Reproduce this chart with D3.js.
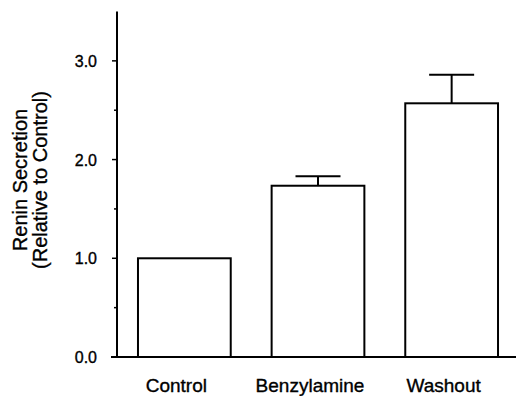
<!DOCTYPE html>
<html>
<head>
<meta charset="utf-8">
<script src="https://cdn.jsdelivr.net/npm/d3@7"></script>
<style>
  body { margin: 0; background: #fff; }
  svg { display: block; }
  text { font-family: "Liberation Sans", Arial, Helvetica, sans-serif; fill: #000; stroke: #000; stroke-width: 0.35px; }
</style>
</head>
<body>
<div id="chart"></div>
<script>
const categories = ["Control", "Benzylamine", "Washout"];
const means = [1.0, 1.735, 2.57];
const errors = [0, 0.095, 0.29];
const majorTicks = [0, 1, 2, 3];
const minorTicks = [0.5, 1.5, 2.5];

const width = 516, height = 396;

const svg = d3.select("#chart").append("svg")
  .attr("width", width)
  .attr("height", height);

const y = d3.scaleLinear().domain([0, 3.5]).range([357, 11.5]);
const x = d3.scaleBand()
  .domain(categories)
  .range([117, 519])
  .paddingInner(0.306)
  .paddingOuter(0.157);

// y axis
svg.append("line")
  .attr("x1", 117).attr("x2", 117)
  .attr("y1", y(3.5)).attr("y2", y(0) + 1)
  .attr("stroke", "#000").attr("stroke-width", 2);

svg.selectAll(".major")
  .data(majorTicks)
  .join("line")
  .attr("x1", 112).attr("x2", 117)
  .attr("y1", d => y(d)).attr("y2", d => y(d))
  .attr("stroke", "#000").attr("stroke-width", 1.5);

svg.selectAll(".minor")
  .data(minorTicks)
  .join("line")
  .attr("x1", 114).attr("x2", 117)
  .attr("y1", d => y(d)).attr("y2", d => y(d))
  .attr("stroke", "#000").attr("stroke-width", 1.5);

svg.selectAll(".ticklabel")
  .data(majorTicks)
  .join("text")
  .attr("x", 97)
  .attr("y", d => y(d) + 6)
  .attr("text-anchor", "end")
  .attr("font-size", 16)
  .text(d => d.toFixed(1));

// bars
svg.selectAll(".bar")
  .data(categories)
  .join("rect")
  .attr("x", d => x(d))
  .attr("y", (d, i) => y(means[i]))
  .attr("width", x.bandwidth())
  .attr("height", (d, i) => y(0) - y(means[i]))
  .attr("fill", "#fff")
  .attr("stroke", "#000")
  .attr("stroke-width", 2);

// error bars
const eb = svg.selectAll(".err")
  .data(categories.filter((d, i) => errors[i] > 0))
  .join("g");

eb.append("line")
  .attr("x1", d => x(d) + x.bandwidth() / 2)
  .attr("x2", d => x(d) + x.bandwidth() / 2)
  .attr("y1", d => y(means[categories.indexOf(d)]))
  .attr("y2", d => { const i = categories.indexOf(d); return y(means[i] + errors[i]); })
  .attr("stroke", "#000").attr("stroke-width", 2);

eb.append("line")
  .attr("x1", d => x(d) + x.bandwidth() / 2 - 22.5)
  .attr("x2", d => x(d) + x.bandwidth() / 2 + 22.5)
  .attr("y1", d => { const i = categories.indexOf(d); return y(means[i] + errors[i]); })
  .attr("y2", d => { const i = categories.indexOf(d); return y(means[i] + errors[i]); })
  .attr("stroke", "#000").attr("stroke-width", 2);

// x axis baseline
svg.append("line")
  .attr("x1", 111).attr("x2", 516)
  .attr("y1", y(0)).attr("y2", y(0))
  .attr("stroke", "#000").attr("stroke-width", 2);

svg.selectAll(".catlabel")
  .data(categories)
  .join("text")
  .attr("x", d => x(d) + x.bandwidth() / 2 - 8)
  .attr("y", 391.5)
  .attr("text-anchor", "middle")
  .attr("font-size", 19)
  .text(d => d);

// y label
const yl = svg.append("text")
  .attr("transform", "translate(27,180) rotate(-90)")
  .attr("text-anchor", "middle")
  .attr("font-size", 20);
yl.append("tspan").attr("x", 0).attr("y", 0).text("Renin Secretion");
yl.append("tspan").attr("x", 0).attr("y", 20).text("(Relative to Control)");
</script>
</body>
</html>
